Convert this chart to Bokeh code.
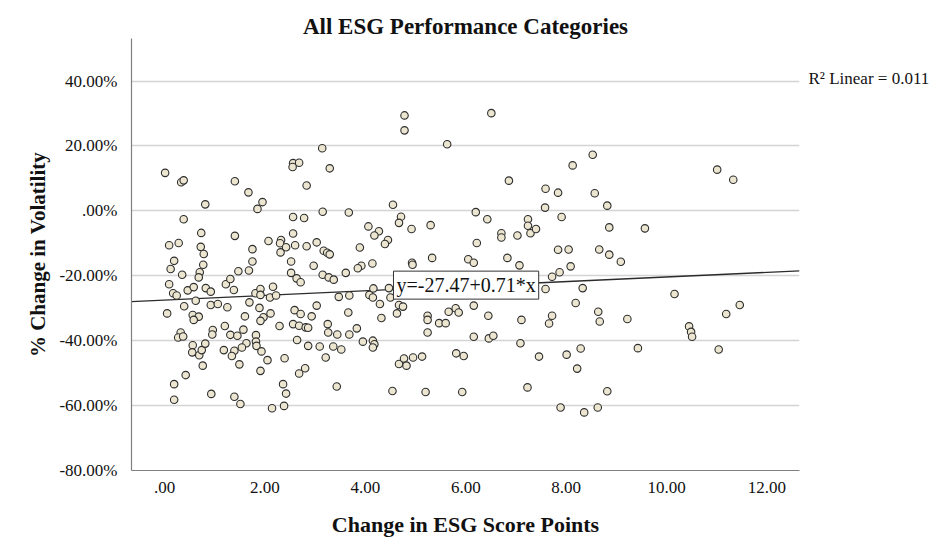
from bokeh.plotting import figure
from bokeh.layouts import row
from bokeh.models import Range1d, FixedTicker, Label, ColumnDataSource
from bokeh.embed import file_html
from bokeh.resources import INLINE

# ---- data (x: change in ESG score points, y: % change in volatility) ----
esg_change = [
    0.01, 0.33, 0.38, 1.40, 1.67, 1.95, 1.85, 0.81, 2.56, 2.68, 2.55, 0.38, 2.56, 0.73, 1.40, 0.09,
    0.28, 0.72, 0.78, 1.75, 2.07, 2.32, 2.30, 2.42, 2.60, 2.31, 2.56, 0.19, 0.77, 1.75, 2.52,
    4.78, 4.78, 3.14, 5.63, 3.29, 2.83, 2.78, 3.15, 3.67, 4.55, 4.71, 4.67, 4.92, 5.30, 4.06, 4.27,
    4.18, 4.45, 4.39, 2.83, 3.03, 3.17, 3.24, 3.29, 3.89, 5.33, 4.93, 4.94, 4.14, 2.97, 3.92,
    6.51, 8.53, 8.13, 6.86, 7.59, 7.84, 8.57, 8.82, 7.58, 6.20, 6.43, 7.91, 8.86, 7.24, 7.24, 7.29,
    7.40, 6.71, 6.71, 7.03, 6.22, 7.84, 8.05, 8.66, 8.86, 9.09, 6.83, 6.05, 6.16, 7.07, 8.09,
    11.01, 11.33, 9.57,
    0.12, 0.35, 0.70, 0.68, 0.09, 0.17, 0.24, 0.46, 0.58, 0.82, 0.92, 0.62, 0.39, 0.05, 0.56, 0.68,
    0.58, 0.92, 1.06, 1.25, 1.22, 1.31, 1.38, 1.47, 1.68, 2.52, 2.63, 2.71, 1.81, 1.91, 1.91, 2.16,
    2.10, 2.22, 1.69, 1.89, 2.11, 1.97, 1.91, 1.60, 2.29, 2.56, 2.68, 2.59, 2.71, 1.20, 0.96, 0.95,
    1.31, 1.45, 1.57, 1.63, 1.54, 1.39, 1.34, 1.18, 1.82, 1.82, 1.83, 1.93, 2.05, 1.91, 2.39, 2.64,
    2.68, 0.32, 0.27, 0.37, 0.56, 0.55, 0.69, 0.74, 0.81, 0.76, 1.49, 0.42, 0.19, 0.93, 1.39, 1.51,
    0.19, 2.14, 2.38, 2.36, 2.42,
    3.15, 3.27, 3.37, 3.61, 3.85, 3.47, 3.68, 4.08, 4.15, 4.16, 4.47, 4.50, 3.03, 2.93, 3.66, 4.29,
    4.32, 4.63, 4.67, 4.75, 2.81, 2.86, 3.25, 3.26, 3.44, 3.68, 3.83, 2.86, 3.09, 3.36, 3.52, 3.21,
    3.95, 4.15, 4.18, 4.15, 2.80, 3.43, 4.54, 5.20, 5.93, 4.67, 4.77, 4.82, 4.95, 5.13, 5.24, 5.24,
    5.24, 5.47, 5.60, 5.66, 5.80, 5.86, 5.81, 5.96,
    7.72, 7.87, 7.59, 8.33, 8.19, 6.16, 6.45, 7.11, 7.72, 7.66, 8.64, 8.67, 9.22, 6.16, 6.46, 6.55,
    7.09, 7.46, 8.01, 8.29, 8.22, 7.23, 8.82, 7.89, 8.36, 8.63,
    10.16, 10.45, 10.49, 10.51, 11.19, 11.46, 9.43, 11.04,
]
volatility_change = [
    11.7, 8.8, 9.4, 9.1, 5.7, 2.7, 0.6, 2.0, 14.7, 14.8, 13.5, -2.6, -1.9, -6.8, -7.7, -10.6,
    -9.9, -11.1, -13.3, -11.8, -9.3, -9.0, -10.0, -11.2, -10.6, -12.8, -7.0, -15.4, -16.6, -15.6, -15.6,
    29.4, 24.8, 19.3, 20.5, 13.1, 7.8, -2.2, -0.3, -0.5, 1.9, -1.8, -3.7, -5.6, -4.4, -4.8, -6.3,
    -7.6, -9.0, -10.2, -10.9, -9.7, -12.3, -12.9, -13.4, -11.3, -14.5, -16.0, -16.6, -16.2, -16.9, -16.9,
    30.1, 17.3, 14.0, 9.3, 6.8, 5.6, 5.4, 1.6, 1.0, -0.4, -2.6, -1.9, -5.1, -2.6, -4.6, -6.9,
    -5.6, -6.9, -8.2, -7.6, -9.9, -12.0, -11.9, -11.9, -13.5, -15.7, -14.5, -14.9, -16.0, -16.8, -17.1,
    12.7, 9.6, -5.4,
    -17.9, -19.7, -18.9, -20.5, -22.6, -25.4, -26.1, -24.5, -23.5, -23.8, -24.9, -27.7, -29.4, -31.6, -32.1, -32.6,
    -33.6, -29.0, -28.7, -29.7, -22.6, -21.0, -24.4, -18.6, -18.4, -19.1, -20.8, -22.0, -25.4, -24.1, -25.9, -23.4,
    -26.7, -26.1, -28.2, -29.9, -31.6, -32.8, -33.9, -32.5, -35.5, -34.9, -35.4, -30.6, -31.8, -35.5, -36.7, -38.1,
    -38.2, -38.5, -36.6, -40.8, -42.1, -43.1, -44.7, -42.9, -38.3, -40.3, -41.6, -43.3, -46.0, -49.3, -45.4, -39.8,
    -50.1, -37.5, -39.0, -38.7, -41.4, -43.6, -44.5, -42.9, -40.9, -47.7, -47.3, -50.6, -53.4, -56.4, -57.3, -59.5,
    -58.2, -60.8, -60.1, -53.4, -56.3,
    -19.7, -20.5, -21.2, -19.1, -17.7, -26.5, -26.1, -25.9, -26.7, -23.9, -23.8, -26.7, -29.2, -32.5, -31.3, -28.7,
    -33.0, -31.6, -29.0, -29.5, -35.9, -36.0, -34.9, -37.5, -38.1, -38.1, -36.2, -41.6, -41.8, -41.8, -42.7, -45.2,
    -40.3, -40.0, -41.1, -42.1, -48.5, -54.1, -55.5, -55.8, -55.8, -47.2, -45.5, -47.7, -45.2, -44.9, -32.3, -33.6,
    -37.5, -34.6, -34.6, -31.1, -30.0, -31.3, -43.9, -44.7,
    -20.3, -18.9, -24.1, -23.8, -28.4, -29.2, -32.3, -33.6, -32.3, -34.7, -31.1, -34.1, -33.3, -38.8, -39.3, -38.5,
    -40.8, -44.9, -44.3, -42.4, -48.6, -54.4, -55.6, -60.6, -62.1, -60.6,
    -25.6, -35.6, -37.3, -38.8, -31.8, -29.0, -42.3, -42.7,
]

fit_intercept = -27.47
fit_slope = 0.71
fit_text = "y=-27.47+0.71*x"
r2_text = "R\u00b2 Linear = 0.011"

x_ticks = [0, 2, 4, 6, 8, 10, 12]
x_tick_labels = [".00", "2.00", "4.00", "6.00", "8.00", "10.00", "12.00"]
y_ticks = [-80, -60, -40, -20, 0, 20, 40]
y_tick_labels = ["-80.00%", "-60.00%", "-40.00%", "-20.00%", ".00%", "20.00%", "40.00%"]

title_text = "All ESG Performance Categories"
x_title = "Change in ESG Score Points"
y_title = "% Change in Volatility"

# ---- main figure ----
X0, X1 = -0.66, 12.65
Y0, Y1 = -80.0, 53.1
SERIF = "Liberation Serif"
H = 546
MAIN_W = 800
SIDE_W = 130

p = figure(width=MAIN_W, height=H, output_backend="svg", toolbar_location=None,
           x_range=Range1d(X0, X1), y_range=Range1d(Y0, Y1),
           min_border_left=131, min_border_right=1, min_border_top=38, min_border_bottom=76)
p.outline_line_color = None
p.background_fill_color = "white"
p.border_fill_color = "white"

p.title.text = title_text
p.title.align = "center"
p.title.text_font = SERIF
p.title.text_font_style = "bold"
p.title.text_font_size = "23px"
p.title.text_color = "#111111"
p.title.standoff = 0

p.xgrid.visible = False
p.ygrid.ticker = FixedTicker(ticks=y_ticks)
p.ygrid.grid_line_color = "#d4d4d4"
p.ygrid.grid_line_width = 1.5

for ax in (p.xaxis[0], p.yaxis[0]):
    ax.axis_line_color = "#808080"
    ax.axis_line_width = 1.2
    ax.major_tick_line_color = None
    ax.minor_tick_line_color = None
    ax.major_label_text_font = SERIF
    ax.major_label_text_font_size = "17px"
    ax.major_label_text_color = "#111111"
    ax.axis_label_text_font = SERIF
    ax.axis_label_text_font_style = "bold"
    ax.axis_label_text_color = "#111111"

p.xaxis.ticker = FixedTicker(ticks=x_ticks)
p.xaxis.major_label_overrides = dict(zip(x_ticks, x_tick_labels))
p.xaxis.axis_label = x_title
p.xaxis.axis_label_text_font_size = "22px"
p.xaxis.major_label_standoff = 5
p.xaxis.axis_label_standoff = 16

p.yaxis.ticker = FixedTicker(ticks=y_ticks)
p.yaxis.major_label_overrides = dict(zip(y_ticks, y_tick_labels))
p.yaxis.axis_label = y_title
p.yaxis.axis_label_text_font_size = "21px"
p.yaxis.major_label_standoff = 8
p.yaxis.axis_label_standoff = 6

# regression line
fit_x = [X0, X1]
fit_y = [fit_intercept + fit_slope * v for v in fit_x]
p.line(fit_x, fit_y, line_color="#2b2b2b", line_width=1.3)

src = ColumnDataSource(data=dict(x=esg_change, y=volatility_change))
p.scatter("x", "y", source=src, size=7.5, marker="circle",
          fill_color="#ece6d1", line_color="#2e2e2e", line_width=1.1)

eq = Label(x=4.56, y=-27.2, text=fit_text, text_font=SERIF, text_font_size="20px",
           text_color="#111111", text_align="left", text_baseline="bottom",
           background_fill_color="white", border_line_color="#333333", border_line_width=1,
           padding=3)
p.add_layout(eq)

# ---- side panel carrying the R-squared note (pixel-unit ranges) ----
side = figure(width=SIDE_W, height=H, output_backend="svg", toolbar_location=None,
              x_range=Range1d(0, SIDE_W), y_range=Range1d(0, H),
              x_axis_type=None, y_axis_type=None, min_border=0)
side.outline_line_color = None
side.grid.visible = False
side.background_fill_color = "white"
side.border_fill_color = "white"
r2 = Label(x=8, y=H - 50, text=r2_text, text_font=SERIF, text_font_size="17px",
           text_color="#111111", text_align="left", text_baseline="middle")
side.add_layout(r2)

layout = row(p, side, spacing=0)
open("out.html", "w").write(file_html(layout, INLINE))
